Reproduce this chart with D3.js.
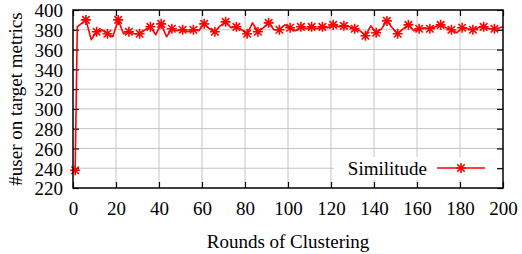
<!DOCTYPE html>
<html>
<head>
<meta charset="utf-8">
<script src="https://cdn.jsdelivr.net/npm/d3@7"></script>
<style>
  body { margin: 0; background: #fff; }
  svg text { font-family: "Liberation Serif", "Times New Roman", serif; fill: #000; }
</style>
</head>
<body>
<div id="chart"></div>
<script>
// rounds of clustering (x) and #users on target metrics (y)
var rounds = [1, 2, 6, 8.5, 11, 13.5, 16, 18.5, 21, 23.5, 26, 28.5, 31, 33.5, 36, 38.5,
    41, 43.5, 46, 48.5, 51, 53.5, 56, 58.5, 61, 63.5, 66, 68.5, 71, 73.5, 76, 78.5,
    81, 83.5, 86, 88.5, 91, 93.5, 96, 98.5, 101, 103.5, 106, 108.5, 111, 113.5, 116, 118.5,
    121, 123.5, 126, 128.5, 131, 133.5, 136, 138.5, 141, 143.5, 146, 148.5, 151, 153.5,
    156, 158.5, 161, 163.5, 166, 168.5, 171, 173.5, 176, 178.5, 181, 183.5, 186, 188.5,
    191, 193.5, 196, 198.5, 200];
var users = [238, 383, 390, 370, 378, 380, 376, 373, 390, 376, 378, 376, 376, 380, 383, 375,
    386, 373, 381, 379, 380, 378, 380, 379, 386, 381, 378, 384, 388, 382, 383, 380,
    376, 387, 378, 382, 387, 380, 380, 385, 382, 379, 383, 381, 383, 381, 383, 382,
    385, 383, 384, 383, 381, 379, 374, 384, 377, 381, 389, 382, 376, 381,
    385, 379, 381, 382, 381, 383, 385, 382, 380, 377, 382, 381, 380, 382,
    383, 381, 381, 382, 383];
// rounds where a point marker is drawn
var markerRounds = [1, 6, 11, 16, 21, 26, 31, 36, 41, 46, 51, 56, 61, 66, 71, 76, 81, 86, 91, 96,
    101, 106, 111, 116, 121, 126, 131, 136, 141, 146, 151, 156, 161, 166, 171, 176, 181, 186, 191, 196];
var xTicks = [0, 20, 40, 60, 80, 100, 120, 140, 160, 180, 200];
var yTicks = [220, 240, 260, 280, 300, 320, 340, 360, 380, 400];
var seriesName = "Similitude";

var W = 522, H = 254;
var margin = { top: 10, right: 19, bottom: 66, left: 73 };
var width = W - margin.left - margin.right;
var height = H - margin.top - margin.bottom;

var svg = d3.select("#chart").append("svg")
    .attr("width", W)
    .attr("height", H);

var g = svg.append("g")
    .attr("transform", "translate(" + margin.left + "," + margin.top + ")");

var x = d3.scaleLinear().domain([0, 200]).range([0, width]);
var y = d3.scaleLinear().domain([220, 400]).range([height, 0]);

// grid
g.append("g").selectAll("line.vg")
    .data(xTicks.slice(1, -1))
    .enter().append("line")
    .attr("x1", function(d) { return x(d); }).attr("x2", function(d) { return x(d); })
    .attr("y1", 0).attr("y2", height)
    .attr("stroke", "#c4c4c4").attr("stroke-width", 1);
g.append("g").selectAll("line.hg")
    .data(yTicks.slice(1, -1))
    .enter().append("line")
    .attr("y1", function(d) { return y(d); }).attr("y2", function(d) { return y(d); })
    .attr("x1", 0).attr("x2", width)
    .attr("stroke", "#c4c4c4").attr("stroke-width", 1);

// axes (ticks inward, mirrored)
var tickLen = 6;
var xAxisB = d3.axisBottom(x).tickValues(xTicks).tickSize(-tickLen).tickPadding(14);
var xAxisT = d3.axisTop(x).tickValues(xTicks).tickSize(-tickLen).tickFormat("");
var yAxisL = d3.axisLeft(y).tickValues(yTicks).tickSize(-tickLen).tickPadding(10);
var yAxisR = d3.axisRight(y).tickValues(yTicks).tickSize(-tickLen).tickFormat("");

function styleAxis(sel) {
    sel.select(".domain").remove();
    sel.selectAll(".tick line").attr("stroke", "#000").attr("stroke-width", 1.2);
    sel.selectAll(".tick text")
        .style("font-family", "'Liberation Serif', 'Times New Roman', serif")
        .style("font-size", "19px")
        .attr("fill", "#000");
}

g.append("g").attr("transform", "translate(0," + height + ")").call(xAxisB).call(styleAxis);
g.append("g").call(xAxisT).call(styleAxis);
g.append("g").call(yAxisL).call(styleAxis)
    .selectAll(".tick text").attr("dy", "0.36em");
g.append("g").attr("transform", "translate(" + width + ",0)").call(yAxisR).call(styleAxis);

// data
var data = rounds.map(function(r, i) { return { r: r, v: users[i] }; });
var markers = data.filter(function(d) { return markerRounds.indexOf(d.r) >= 0; });

var line = d3.line()
    .x(function(d) { return x(d.r); })
    .y(function(d) { return y(d.v); });

g.append("path")
    .datum(data)
    .attr("d", line)
    .attr("fill", "none")
    .attr("stroke", "#ff0000")
    .attr("stroke-width", 1.6)
    .attr("stroke-linejoin", "round");

// gnuplot-style asterisk marker
var ms = 5;
function asterisk(cx, cy) {
    return "M" + (cx - ms) + "," + cy + "H" + (cx + ms) +
        "M" + cx + "," + (cy - ms) + "V" + (cy + ms) +
        "M" + (cx - ms * 0.75) + "," + (cy - ms * 0.75) + "L" + (cx + ms * 0.75) + "," + (cy + ms * 0.75) +
        "M" + (cx - ms * 0.75) + "," + (cy + ms * 0.75) + "L" + (cx + ms * 0.75) + "," + (cy - ms * 0.75);
}

g.selectAll(".pt")
    .data(markers)
    .enter().append("path")
    .attr("class", "pt")
    .attr("d", function(d) { return asterisk(x(d.r), y(d.v)); })
    .attr("stroke", "#ff0000")
    .attr("stroke-width", 1.6)
    .attr("fill", "none");

// legend
var legend = g.append("g");
legend.append("rect")
    .attr("x", 261).attr("y", 147)
    .attr("width", 163).attr("height", 23)
    .attr("fill", "#fff");
legend.append("text")
    .attr("x", 354).attr("y", 158)
    .attr("dy", "0.35em")
    .attr("text-anchor", "end")
    .style("font-size", "19px")
    .text(seriesName);
legend.append("line")
    .attr("x1", 364).attr("x2", 412)
    .attr("y1", 158).attr("y2", 158)
    .attr("stroke", "#ff0000").attr("stroke-width", 1.6);
legend.append("path")
    .attr("d", asterisk(388, 158))
    .attr("stroke", "#ff0000").attr("stroke-width", 1.6).attr("fill", "none");

// frame
g.append("rect")
    .attr("width", width).attr("height", height)
    .attr("fill", "none")
    .attr("stroke", "#000").attr("stroke-width", 1.5);

// axis titles
svg.append("text")
    .attr("x", margin.left + width / 2)
    .attr("y", 241)
    .attr("dy", "0.35em")
    .attr("text-anchor", "middle")
    .style("font-size", "19px")
    .text("Rounds of Clustering");

svg.append("text")
    .attr("transform", "translate(15," + (margin.top + height / 2) + ") rotate(-90)")
    .attr("dy", "0.35em")
    .attr("text-anchor", "middle")
    .style("font-size", "19px")
    .text("#user on target metrics");
</script>
</body>
</html>
